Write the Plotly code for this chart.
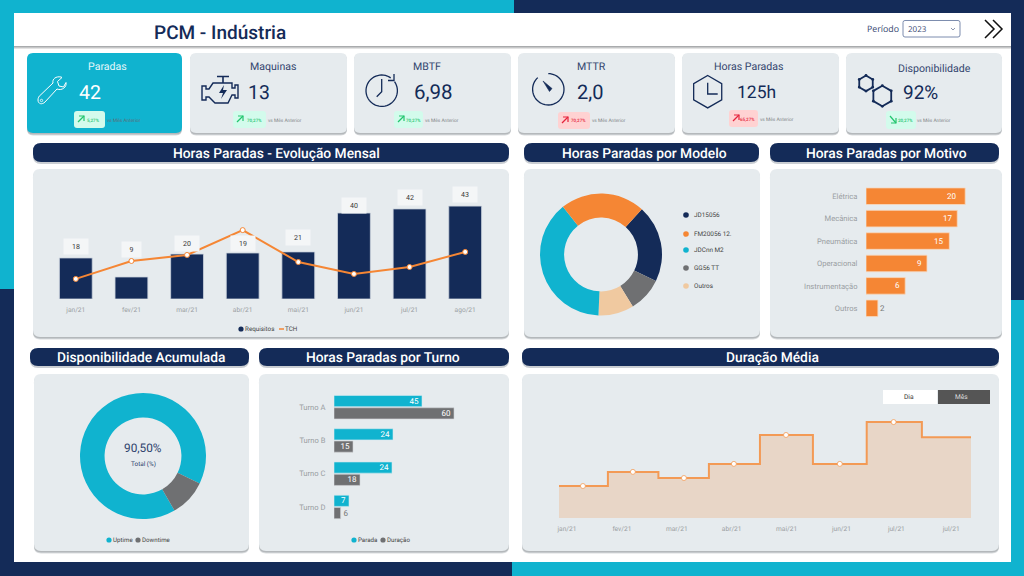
import math
import re
import plotly.graph_objects as go

# ---------- data ----------
months = ["jan/21", "fev/21", "mar/21", "abr/21", "mai/21", "jun/21", "jul/21", "ago/21"]
requisitos = [19.0, 10.2, 20.8, 21.3, 21.8, 39.8, 41.7, 43.0]
requisitos_labels = ["18", "9", "20", "19", "21", "40", "42", "43"]
requisitos_label_y = [24.5, 22.7, 25.9, 25.5, 28.7, 43.5, 47.2, 48.6]
tch = [9.3, 17.6, 20.4, 31.9, 17.1, 11.6, 14.8, 21.8]

modelo_names = ["JD15056", "GG56 TT", "Outros", "JDCnn M2", "FM20056 12."]
modelo_values = [20.5, 9.1, 9.4, 38.6, 22.4]
modelo_legend = ["JD15056", "FM20056 12.", "JDCnn M2", "GG56 TT", "Outros"]

motivo_names = ["Elétrica", "Mecânica", "Pneumática", "Operacional", "Instrumentação", "Outros"]
motivo_values = [20, 18.4, 16.8, 12.3, 7.9, 2.4]
motivo_labels = ["20", "17", "15", "9", "6", "2"]

disp_names = ["Uptime", "Downtime"]
disp_values = [90.5, 9.5]

turno_names = ["Turno A", "Turno B", "Turno C", "Turno D"]
turno_parada = [44, 29.5, 29, 7.5]
turno_duracao = [60, 9.5, 13, 3.3]
turno_parada_labels = ["45", "24", "24", "7"]
turno_duracao_labels = ["60", "15", "18", "6"]

duracao_ticks = ["jan/21", "fev/21", "mar/21", "abr/21", "mai/21", "jun/21", "jul/21", "jul/21"]
duracao_x = [-0.15, 0.29, 1.20, 2.13, 3.04, 3.99, 4.97, 5.95, 6.98, 7.36]
duracao_y = [10.4, 10.4, 15.0, 13.0, 17.6, 27.0, 17.6, 31.2, 26.3, 26.3]

kpi_titles = ["Paradas", "Maquinas", "MBTF", "MTTR", "Horas Paradas", "Disponibilidade"]
kpi_values = ["42", "13", "6,98", "2,0", "125h", "92%"]
kpi_deltas = ["5,27%", "70,27%", "70,27%", "70,27%", "65,27%", "20,27%"]

# ---------- palette ----------
NAVY = "#142B58"
TEAL = "#10B3CF"
ORANGE = "#F58634"
GRAY = "#6F7072"
PEACH = "#F0C9A0"
CARD = "#E6EBEE"
TICK = "#9A9EA2"
LEGTXT = "#444444"
FONT = "Roboto"

W, H = 1024, 576
def X(v): return v / W
def Y(v): return 1 - v / H

shapes, annotations = [], []

def path_px(d):
    """Convert an absolute M/L/C/Q/Z path written in pixels into paper units."""
    out, idx = [], 0
    for tok in re.findall(r"[MLCQZ]|-?\d+(?:\.\d+)?", d):
        if tok in "MLCQZ":
            out.append(tok)
            idx = 0
        else:
            v = float(tok)
            out.append(f"{X(v):.5f}" if idx % 2 == 0 else f"{Y(v):.5f}")
            idx += 1
    return " ".join(out)

def add_path(d, fill=None, line=None, width=1.0, opacity=None):
    s = dict(type="path", xref="paper", yref="paper", layer="below", path=path_px(d),
             line=dict(color=line or "rgba(0,0,0,0)", width=width if line else 0))
    if fill:
        s["fillcolor"] = fill
    if opacity is not None:
        s["opacity"] = opacity
    shapes.append(s)

def rrect(x0, y0, x1, y1, r, fill, line=None, width=1.0, opacity=None):
    d = (f"M {x0+r} {y0} L {x1-r} {y0} Q {x1} {y0} {x1} {y0+r} L {x1} {y1-r} Q {x1} {y1} {x1-r} {y1} "
         f"L {x0+r} {y1} Q {x0} {y1} {x0} {y1-r} L {x0} {y0+r} Q {x0} {y0} {x0+r} {y0} Z")
    add_path(d, fill=fill, line=line, width=width, opacity=opacity)

def rect(x0, y0, x1, y1, fill):
    shapes.append(dict(type="rect", xref="paper", yref="paper", layer="below",
                       x0=X(x0), x1=X(x1), y0=Y(y1), y1=Y(y0), fillcolor=fill, line=dict(width=0)))

def circle(cx, cy, r, fill=None, line=None, width=1.0):
    shapes.append(dict(type="circle", xref="paper", yref="paper", layer="below",
                       x0=X(cx-r), x1=X(cx+r), y0=Y(cy+r), y1=Y(cy-r),
                       fillcolor=fill or "rgba(0,0,0,0)",
                       line=dict(color=line or "rgba(0,0,0,0)", width=width if line else 0)))

def text(x, y, s, size, color, anchor="center", weight=None, family=FONT):
    f = dict(size=size, color=color, family=family)
    if weight:
        f["weight"] = weight
    if anchor == "left":
        x -= 2.5  # annotation box padding
    annotations.append(dict(xref="paper", yref="paper", x=X(x), y=Y(y), text=s, showarrow=False,
                            xanchor=anchor, yanchor="middle", font=f))

def arc(cx, cy, r, a0, a1, n=48):
    pts = []
    for i in range(n + 1):
        a = math.radians(a0 + (a1 - a0) * i / n)
        pts.append((cx + r * math.sin(a), cy - r * math.cos(a)))
    return "M " + " L ".join(f"{p[0]:.2f} {p[1]:.2f}" for p in pts)

def hexagon(cx, cy, r):
    pts = [(cx + r * math.sin(math.radians(60 * k)), cy - r * math.cos(math.radians(60 * k))) for k in range(6)]
    return pts, "M " + " L ".join(f"{p[0]:.2f} {p[1]:.2f}" for p in pts) + " Z"

# ---------- page background ----------
rect(0, 0, W, H, "#FFFFFF")
rect(0, 0, 514, 13, TEAL)
rect(514, 0, W, 13, NAVY)
rect(0, 0, 14, 289, TEAL)
rect(0, 289, 14, H, NAVY)
rect(1011, 0, W, 300, NAVY)
rect(1011, 300, W, H, TEAL)
rect(0, 562, 512, H, NAVY)
rect(512, 562, W, H, TEAL)
rect(14, 46, 1011, 48, "#A9ABAD")
rect(14, 47.5, 1011, 49, "#E3E3E3")

# ---------- header ----------
text(220, 32, "PCM - Indústria", 19, NAVY, weight=500)
text(883, 29, "Período", 8.8, "#34466F", family="Open Sans")
rrect(903, 20.5, 960, 37, 2, "#FFFFFF", line="#7C8CAE", width=1)
text(908, 29, "2023", 8, "#34466F", anchor="left", family="Open Sans")
add_path("M 951 28 L 953 30 L 955 28", line="#6C7A99", width=0.8)
add_path("M 985 20 L 994 29 L 985 38", line="#111111", width=1.5)
add_path("M 993 20 L 1002 29 L 993 38", line="#111111", width=1.5)

# ---------- panels and title bars ----------
def panel(x0, y0, x1, y1, r=7, fill=CARD):
    rrect(x0, y0 + 2.5, x1, y1 + 2.5, r, "#D9DCDE")
    rrect(x0, y0 + 1.5, x1, y1 + 1.5, r, "#B4B8BB")
    rrect(x0, y0, x1, y1, r, fill)

def bar_title(x0, y0, x1, y1, s, cx):
    rrect(x0, y0 + 2, x1, y1 + 2, 8, "#C9CDD2")
    rrect(x0, y0, x1, y1, 8, NAVY)
    text(cx, (y0 + y1) / 2 + 0.3, s, 13.8, "#FFFFFF", weight=500)

bar_title(33, 143, 509, 162, "Horas Paradas - Evolução Mensal", 276)
bar_title(524, 143, 759, 162, "Horas Paradas por Modelo", 644)
bar_title(770, 143, 999, 162, "Horas Paradas por Motivo", 886)
bar_title(30, 348, 249, 366, "Disponibilidade Acumulada", 141)
bar_title(259, 348, 509, 366, "Horas Paradas por Turno", 383)
bar_title(522, 348, 999, 366, "Duração Média", 772.7)

panel(33, 169, 509, 337)
panel(524, 169, 760, 337)
panel(770, 169, 1002, 337)
panel(34, 374, 249, 551)
panel(259, 374, 509, 551)
panel(522, 374, 999, 551)

# ---------- KPI cards ----------
card_boxes = [(27, 182), (190, 347), (354, 511), (518, 675), (682, 839), (846, 1002)]
title_pos = [(107, 67), (273, 67), (427, 67), (591, 67), (749, 67), (934, 68)]
value_pos = [(90, 92), (259, 92), (433, 92), (590, 92), (756.5, 92), (920, 92)]
value_size = [19.5, 19.5, 20.5, 20, 17.5, 19]
pill_boxes = [(74, 111, 105, 128), (233, 111, 266, 128), (394, 111, 423, 128),
              (558, 112, 590, 129), (729, 110, 758, 127), (886, 111, 916, 129)]
delta_x = [93, 254, 413, 578, 747, 905]
vs_x = [124, 285, 442, 609, 777, 934]
bad = [False, False, False, True, True, False]
down = [False, False, False, False, False, True]

for i, (x0, x1) in enumerate(card_boxes):
    first = i == 0
    panel(x0, 53, x1, 133, r=6, fill=TEAL if first else CARD)
    text(title_pos[i][0], title_pos[i][1], kpi_titles[i], 10.6, "#E4F7FB" if first else "#34466F")
    text(value_pos[i][0], value_pos[i][1], kpi_values[i], value_size[i], "#FFFFFF" if first else NAVY)
    px0, py0, px1, py1 = pill_boxes[i]
    rrect(px0, py0, px1, py1, 3, "#FFD2D2" if bad[i] else "#D3FBEC")
    col = "#E5233B" if bad[i] else "#22C56E"
    ax, ay = px0 + 4, py0 + 5
    if down[i]:
        add_path(f"M {ax} {ay} L {ax+6} {ay+7}", line=col, width=1.2)
        add_path(f"M {ax+6} {ay+2} L {ax+6} {ay+7} L {ax+1} {ay+7}", line=col, width=1.2)
    else:
        add_path(f"M {ax} {ay+6} L {ax+6} {ay}", line=col, width=1.2)
        add_path(f"M {ax+1} {ay} L {ax+6} {ay} L {ax+6} {ay+5}", line=col, width=1.2)
    text(delta_x[i], (py0 + py1) / 2 + 0.5, kpi_deltas[i], 4.5, col, weight=500)
    text(vs_x[i], (py0 + py1) / 2 + 0.5, "vs Mês Anterior", 4.8, "#5F6C78" if first else "#7F8487")

# wrench
add_path("M 53 83 C 52 79 56 76 61 77 L 62 77.5 L 57.5 81.5 L 59 86 L 63.5 87 L 66 82.5 "
         "C 67 87 62 91 57 89 L 45 102 C 42 105 38 104 38 100 C 38 98 39 96 40 95.5 Z",
         line="#FFFFFF", width=1.0)
circle(41.5, 100.5, 1.2, line="#FFFFFF", width=0.8)
# engine
add_path("M 217 76.5 L 229 76.5 M 223 76.5 L 223 83", line=NAVY, width=1.6)
add_path("M 213 83 L 232 83 L 232 88 L 235 88 L 235 85 L 238 85 L 238 98 L 235 98 L 235 95 L 232 95 "
         "L 228 103 L 215 103 L 209 97 L 206 97 L 206 100 L 202 100 L 202 86 L 206 86 L 206 89 L 209 89 Z",
         line=NAVY, width=1.4)
add_path("M 224 85 L 219 93 L 223 93 L 221 99 L 227 90 L 223 90 Z", fill=NAVY)
# clock with arrow
add_path(arc(381.7, 90.7, 15.7, 55, 395), line=NAVY, width=1.3)
add_path("M 394 74 L 394 80.5 L 388 80.5", line=NAVY, width=1.3)
add_path("M 381.7 79 L 381.7 91.7 L 376.7 96.7", line=NAVY, width=1.3)
# stopwatch
add_path(arc(548.3, 89.3, 15.7, 0, 318), line=NAVY, width=1.3)
add_path("M 543 81 L 552 88.5 L 549.5 91.5 Z", fill=NAVY, line=NAVY, width=0.6)
# hexagon clock
add_path(hexagon(707.7, 91.7, 16.2)[1], line=NAVY, width=1.3)
add_path("M 707.7 82.7 L 707.7 94 L 717.7 94", line=NAVY, width=1.3)
# hexagons
for cx, cy, r in [(866, 83.3, 7.8), (882.3, 96, 10.3)]:
    pts, d = hexagon(cx, cy, r)
    add_path(d, line=NAVY, width=1.8)
    for p in pts:
        circle(p[0], p[1], 1.4, fill=NAVY)

# ---------- chart 1: combo ----------
fig = go.Figure()
fig.add_trace(go.Bar(x=months, y=requisitos, name="Requisitos", width=0.59, xaxis="x", yaxis="y",
                     marker=dict(color=NAVY, line=dict(color="#CBD3DD", width=0.8))))
fig.add_trace(go.Scatter(x=months, y=tch, name="TCH", mode="lines+markers", xaxis="x", yaxis="y",
                         line=dict(color=ORANGE, width=2),
                         marker=dict(size=5, color="#FFFFFF", line=dict(color=ORANGE, width=1))))
for m, v, lab in zip(months, requisitos_label_y, requisitos_labels):
    annotations.append(dict(xref="x", yref="y", x=m, y=v, text=lab, showarrow=False,
                            bgcolor="#F4F6F7", width=22 if len(lab) > 1 else 17, height=13,
                            font=dict(size=7, color="#333333", family=FONT)))

# ---------- chart 2: model donut ----------
fig.add_trace(go.Pie(labels=modelo_names, values=modelo_values, hole=0.605, sort=False, rotation=42,
                     direction="clockwise", textinfo="none", showlegend=False,
                     marker=dict(colors=[NAVY, GRAY, PEACH, TEAL, ORANGE], line=dict(width=0)),
                     domain=dict(x=[X(540), X(662)], y=[Y(315.5), Y(193.5)])))
modelo_leg_colors = [NAVY, ORANGE, TEAL, GRAY, PEACH]
modelo_leg_y = [215, 234, 250, 268, 286]
for name, col, yy in zip(modelo_legend, modelo_leg_colors, modelo_leg_y):
    circle(686, yy, 2.8, fill=col)
    text(694, yy, name, 6.4, LEGTXT, anchor="left")

# ---------- chart 3: motivo ----------
fig.add_trace(go.Bar(y=motivo_names, x=motivo_values, orientation="h", width=0.74, xaxis="x2", yaxis="y2",
                     marker=dict(color=ORANGE, line=dict(color="#F7D9BF", width=0.8))))
motivo_shift = [-14, -10, -11, -8, -8, 5]
for name, v, lab, sh in zip(motivo_names, motivo_values, motivo_labels, motivo_shift):
    annotations.append(dict(xref="x2", yref="y2", x=v, y=name, text=lab, showarrow=False, xshift=sh,
                            font=dict(size=8, color="#FFFFFF" if sh < 0 else "#777777", family=FONT)))

# ---------- chart 4: availability donut ----------
fig.add_trace(go.Pie(labels=disp_names, values=disp_values, hole=0.61, sort=False, rotation=150,
                     direction="clockwise", textinfo="none", showlegend=False,
                     marker=dict(colors=[TEAL, GRAY], line=dict(width=0)),
                     domain=dict(x=[X(80), X(206)], y=[Y(519), Y(393)])))
text(143, 448, "90,50%", 11.8, "#2D3F6B")
text(143, 464, "Total (%)", 6.4, "#2D3F6B")
circle(109, 540, 2.6, fill=TEAL)
text(113, 540, "Uptime", 6.2, LEGTXT, anchor="left")
circle(138, 540, 2.6, fill=GRAY)
text(142.5, 540, "Downtime", 6.2, LEGTXT, anchor="left")

# ---------- chart 5: shift bars ----------
fig.add_trace(go.Bar(y=turno_names, x=turno_parada, name="Parada", orientation="h", width=0.335, offset=-0.35,
                     xaxis="x3", yaxis="y3", marker=dict(color=TEAL, line=dict(color="#CFEAF0", width=0.6)),
                     text=turno_parada_labels, textposition="inside", insidetextanchor="end", textangle=0,
                     constraintext="none", cliponaxis=False,
                     insidetextfont=dict(size=8, color="#FFFFFF", family=FONT)))
fig.add_trace(go.Bar(y=turno_names, x=turno_duracao, name="Duração", orientation="h", width=0.335, offset=0.02,
                     xaxis="x3", yaxis="y3", marker=dict(color=GRAY, line=dict(color="#D2D4D6", width=0.6)),
                     text=turno_duracao_labels, textposition=["inside"] * 3 + ["outside"], textangle=0,
                     insidetextanchor="end", constraintext="none", cliponaxis=False,
                     insidetextfont=dict(size=8, color="#FFFFFF", family=FONT),
                     outsidetextfont=dict(size=8, color="#777777", family=FONT)))
circle(354, 540, 2.6, fill=TEAL)
text(358, 540, "Parada", 6.2, LEGTXT, anchor="left")
circle(383, 540, 2.6, fill=GRAY)
text(387.5, 540, "Duração", 6.2, LEGTXT, anchor="left")

# ---------- chart 6: average duration ----------
fig.add_trace(go.Scatter(x=duracao_x, y=duracao_y, mode="lines", xaxis="x4", yaxis="y4", fill="tozeroy",
                         fillcolor="#E8D6C7", line=dict(color="#F39A55", width=2, shape="hvh")))
fig.add_trace(go.Scatter(x=duracao_x[1:8], y=duracao_y[1:8], mode="markers", xaxis="x4", yaxis="y4",
                         marker=dict(size=5, color="#FFFFFF", line=dict(color="#F39A55", width=0.8))))
rect(883, 390, 937, 404, "#FFFFFF")
rect(938, 390, 990, 404, "#555555")
text(909, 397, "Dia", 6.6, "#333333")
text(961, 397, "Mês", 6.6, "#DDDDDD")

# legend of chart 1
circle(241, 329, 2.6, fill=NAVY)
text(245, 329, "Requisitos", 6.3, LEGTXT, anchor="left")
add_path("M 279 329 L 284 329", line=ORANGE, width=1.5)
text(285.5, 329, "TCH", 6.3, LEGTXT, anchor="left")

# ---------- axes ----------
hidden = dict(visible=False, showgrid=False, zeroline=False)
tick_font = dict(size=6.6, color=TICK, family=FONT)
cat_font = dict(size=7.6, color=TICK, family=FONT)
def xcat(**kw):
    return dict(showgrid=False, zeroline=False, showline=False, ticks="outside", ticklen=4,
                tickcolor="rgba(0,0,0,0)", tickfont=tick_font, **kw)
def ycat(names, **kw):
    return dict(showgrid=False, zeroline=False, showline=False, ticks="outside", ticklen=6,
                tickcolor="rgba(0,0,0,0)", tickfont=cat_font, autorange=False,
                range=[len(names) - 0.5, -0.5], **kw)

fig.update_layout(
    width=W, height=H, autosize=False, margin=dict(l=0, r=0, t=0, b=0, pad=0, autoexpand=False),
    paper_bgcolor="#FFFFFF", plot_bgcolor="rgba(0,0,0,0)",
    barmode="overlay", showlegend=False, font=dict(family=FONT),
    xaxis=xcat(domain=[X(48), X(493)], anchor="y"),
    yaxis=dict(domain=[Y(299), Y(191)], range=[0, 50], anchor="x", **hidden),
    xaxis2=dict(domain=[X(866), X(990)], range=[0, 25], anchor="y2", **hidden),
    yaxis2=ycat(motivo_names, domain=[Y(319.5), Y(185)], anchor="x2"),
    xaxis3=dict(domain=[X(334), X(474)], range=[0, 70], anchor="y3", **hidden),
    yaxis3=ycat(turno_names, domain=[Y(523.5), Y(390.5)], anchor="x3"),
    xaxis4=xcat(domain=[X(559), X(971)], range=[-0.146, 7.36], anchor="y4",
                tickmode="array", tickvals=list(range(len(duracao_ticks))), ticktext=duracao_ticks),
    yaxis4=dict(domain=[Y(518), Y(395)], range=[0, 40], anchor="x4", **hidden),
    shapes=shapes, annotations=annotations,
)

page_css = ("document.body.style.margin='0';document.body.style.overflow='hidden';"
            "var st=document.createElement('style');"
            "st.textContent='svg text{text-rendering:geometricPrecision}';"
            "document.head.appendChild(st);")
fig.write_html("out.html", config={"displayModeBar": False}, post_script=page_css)
